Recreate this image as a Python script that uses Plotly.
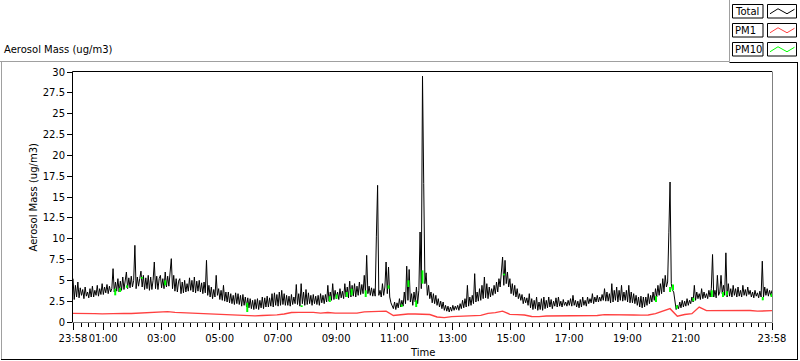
import plotly.graph_objects as go

# ---------------- data (minutes since 23:58, Total sampled every 2.5 min) ----------------
total = [
    5.2, 2.7, 4.4, 3.0, 4.8, 2.9, 4.1, 3.2,
    3.9, 2.8, 4.2, 3.1, 3.6, 2.9, 4.0, 3.0,
    4.3, 3.0, 3.8, 3.2, 4.4, 3.1, 4.0, 3.3,
    4.6, 3.3, 4.2, 3.5, 4.5, 3.4, 4.3, 3.6,
    4.0, 6.4, 3.6, 4.8, 3.7, 5.2, 3.6, 4.9,
    3.8, 5.4, 3.9, 5.0, 6.0, 4.0, 5.3, 4.1,
    5.5, 4.2, 5.0, 9.2, 4.0, 5.4, 4.3, 5.2,
    6.1, 4.2, 5.6, 3.9, 5.3, 4.0, 5.6, 3.8,
    5.4, 3.9, 5.0, 7.2, 4.0, 5.5, 3.9, 5.2,
    5.6, 4.1, 5.2, 4.0, 6.0, 4.2, 5.5, 4.3,
    5.8, 7.6, 4.0, 5.6, 3.7, 5.2, 3.6, 4.9,
    5.2, 3.4, 4.8, 3.5, 5.0, 3.6, 4.6, 3.7,
    5.3, 3.8, 5.0, 3.6, 5.4, 3.5, 4.9, 3.7,
    5.0, 3.6, 4.7, 3.4, 4.8, 3.5, 7.4, 3.2,
    4.4, 3.0, 4.2, 2.8, 3.9, 3.0, 5.6, 3.2,
    4.0, 2.7, 3.8, 2.6, 4.4, 2.5, 3.6, 2.4,
    3.6, 2.3, 3.4, 2.2, 3.2, 2.1, 3.5, 2.2,
    3.4, 2.1, 3.2, 1.9, 3.3, 2.0, 3.0, 1.8,
    2.9, 1.7, 2.8, 1.6, 2.6, 1.5, 2.7, 1.6,
    2.8, 1.5, 2.6, 1.7, 3.0, 1.6, 2.9, 1.8,
    3.1, 1.8, 2.9, 1.9, 3.4, 1.8, 3.5, 2.0,
    3.3, 1.9, 3.6, 2.0, 3.8, 2.1, 3.4, 2.0,
    3.2, 2.0, 3.1, 1.9, 3.3, 2.1, 3.0, 2.2,
    4.5, 2.1, 3.4, 1.9, 4.6, 2.2, 3.6, 2.0,
    3.9, 2.1, 3.5, 2.2, 3.2, 2.0, 3.3, 2.2,
    3.1, 2.1, 3.2, 2.0, 3.4, 2.3, 3.2, 2.2,
    3.3, 2.4, 4.4, 2.5, 3.6, 2.6, 4.6, 2.7,
    3.8, 2.8, 3.6, 2.7, 4.0, 2.9, 3.7, 2.8,
    4.6, 3.0, 4.2, 2.9, 4.9, 3.0, 4.4, 3.1,
    4.6, 3.0, 4.3, 3.2, 4.8, 3.3, 4.5, 3.4,
    5.6, 3.5, 8.0, 3.4, 4.3, 3.2, 4.1, 3.1,
    4.0, 3.1, 10.3, 16.4, 3.2, 3.8, 3.0, 4.6,
    3.2, 4.2, 7.2, 3.4, 6.6, 3.0, 2.3, 2.0,
    1.6, 2.4, 1.5, 2.3, 1.7, 2.8, 1.8, 2.6,
    1.9, 3.6, 2.2, 6.7, 2.6, 6.3, 2.4, 3.4,
    2.0, 3.6, 2.4, 4.2, 2.2, 3.8, 10.8, 4.0,
    29.5, 16.6, 4.6, 5.9, 3.2, 4.4, 2.8, 3.6,
    2.3, 3.4, 2.2, 3.2, 2.0, 2.8, 1.8, 2.5,
    1.6, 2.4, 1.4, 2.0, 1.3, 1.9, 1.2, 1.8,
    1.3, 2.0, 1.4, 1.9, 1.5, 2.0, 1.4, 2.2,
    1.6, 2.6, 1.7, 2.8, 1.8, 4.4, 1.9, 3.0,
    2.0, 3.2, 2.2, 5.8, 2.4, 3.6, 2.5, 4.0,
    2.6, 4.4, 2.8, 5.4, 2.9, 4.6, 2.8, 4.2,
    3.0, 4.0, 3.2, 4.4, 3.4, 4.8, 3.6, 5.2,
    4.2, 6.0, 7.8, 4.4, 7.4, 4.6, 6.0, 4.2,
    5.2, 3.4, 4.6, 3.2, 4.4, 3.0, 4.0, 2.8,
    3.4, 2.6, 3.3, 2.2, 3.0, 2.3, 2.9, 2.0,
    3.4, 1.7, 2.8, 1.5, 2.6, 1.6, 3.0, 1.4,
    2.4, 1.5, 2.8, 1.4, 3.0, 1.6, 2.6, 1.7,
    3.0, 1.8, 2.7, 1.6, 2.5, 1.9, 2.9, 1.8,
    3.0, 1.9, 2.5, 1.8, 2.7, 2.0, 2.4, 1.9,
    2.6, 2.0, 2.8, 1.9, 3.2, 2.0, 2.6, 1.8,
    2.5, 1.7, 2.7, 1.8, 3.0, 2.0, 2.6, 1.9,
    3.0, 2.2, 2.8, 2.3, 3.4, 2.2, 3.0, 2.4,
    3.2, 2.4, 3.0, 2.5, 3.3, 2.6, 4.0, 2.5,
    3.6, 2.5, 3.4, 2.3, 4.6, 2.4, 3.8, 2.6,
    4.2, 2.4, 3.8, 2.6, 4.4, 2.5, 3.6, 2.6,
    3.8, 2.4, 4.4, 2.3, 3.6, 2.3, 3.4, 2.2,
    3.2, 2.0, 3.0, 1.8, 3.1, 1.7, 3.0, 1.8,
    3.0, 2.0, 3.4, 2.2, 3.2, 2.4, 3.6, 2.6,
    4.0, 3.0, 4.4, 3.2, 4.6, 3.4, 5.2, 3.6,
    5.6, 4.2, 4.8, 10.7, 16.8, 4.6, 3.8, 3.6,
    2.2, 1.5, 2.0, 1.6, 2.4, 1.7, 2.6, 1.8,
    2.5, 1.9, 2.8, 2.0, 2.6, 2.2, 3.0, 2.4,
    4.4, 2.6, 3.6, 2.8, 3.4, 2.7, 4.0, 2.8,
    3.6, 2.9, 3.4, 2.8, 3.8, 3.0, 4.0, 8.1,
    3.0, 3.8, 2.9, 5.6, 3.2, 3.6, 5.6, 3.4,
    4.4, 3.2, 8.3, 3.0, 4.6, 3.1, 4.0, 3.0,
    4.4, 3.2, 4.0, 3.0, 4.2, 3.1, 3.8, 3.0,
    4.4, 3.2, 3.9, 3.1, 4.2, 3.3, 3.8, 3.0,
    3.6, 2.9, 3.8, 3.1, 3.5, 2.9, 3.7, 3.0,
    7.3, 3.0, 4.2, 3.2, 4.0, 3.1, 3.8, 3.2,
    3.8]
total_minutes = [2.5 * k for k in range(len(total))]

pm1 = [1.04, 1.00, 0.96, 1.00, 0.98, 1.02, 1.00, 1.04, 1.02, 1.08,
       1.12, 1.16, 1.20, 1.24, 1.16, 1.12, 1.08, 1.02, 1.00, 1.00,
       0.92, 0.88, 0.84, 0.78, 0.76, 0.74, 0.78, 0.80, 0.86, 0.96,
       1.14, 1.16, 1.16, 1.16, 1.06, 1.14, 1.06, 1.06, 1.04, 1.06,
       1.22, 1.26, 1.28, 1.30, 0.78, 0.88, 0.96, 0.96, 0.92, 0.90,
       0.60, 0.52, 0.64, 0.66, 0.72, 0.76, 0.80, 1.04, 1.12, 1.30,
       0.92, 0.88, 0.84, 0.66, 0.64, 0.72, 0.72, 0.74, 0.76, 0.76,
       0.74, 0.76, 0.78, 0.88, 0.88, 0.92, 0.90, 0.84, 0.82, 0.84,
       1.00, 1.30, 1.60, 0.70, 0.90, 1.00, 1.80, 1.36, 1.36, 1.40,
       1.34, 1.36, 1.36, 1.38, 1.30, 1.32, 1.36]
pm1_minutes = [15 * j for j in range(len(pm1))]

# PM10 is hidden under Total except for these short visible excursions
pm10_minutes = [87, 97, 111, 142, 190, 359, 471, 529, 543, 564, 574, 603,
                650, 677, 691, 707, 720, 888, 1201, 1230, 1236, 1244,
                1278, 1316, 1339, 1347, 1421, 1439]
pm10_high = [4.0, 4.1, 4.4, 5.4, 5.0, 2.3, 2.0, 3.1, 3.3, 3.6, 4.0, 3.8,
             4.4, 2.1, 5.0, 2.6, 6.2, 5.8, 3.1, 4.2, 4.5, 2.0,
             2.9, 3.8, 3.6, 3.7, 3.0, 3.4]
pm10_low = [3.2, 3.6, 4.1, 5.2, 4.4, 1.2, 1.8, 2.4, 2.8, 3.0, 3.2, 3.0,
            4.0, 1.8, 4.2, 1.8, 4.6, 5.6, 2.4, 3.6, 3.8, 1.6,
            2.5, 3.0, 3.0, 3.2, 2.6, 3.0]

major_ticks = [0, 62, 182, 302, 422, 542, 662, 782, 902, 1022, 1142, 1262, 1382, 1440]
major_labels = ["23:58", "01:00", "03:00", "05:00", "07:00", "09:00", "11:00",
                "13:00", "15:00", "17:00", "19:00", "21:00", "", "23:58"]
minor_ticks = [2 + 15 * k for k in range(96)]
y_ticks = [2.5 * k for k in range(13)]
y_labels = ["0", "2.5", "5", "7.5", "10", "12.5", "15", "17.5", "20",
            "22.5", "25", "27.5", "30"]

series_names = ["Total", "PM1", "PM10"]
series_colors = ["#000000", "#ff4040", "#00ff00"]

# ---------------- layout geometry ----------------
W, H = 800, 361
L, R, T, B = 73, 772, 72, 322
FONT = "DejaVu Sans"


def px(x):
    return (x - L) / (R - L)


def py(y):
    return (B - y) / (B - T)


fig = go.Figure()

fig.add_trace(go.Scatter(x=pm1_minutes, y=pm1, mode="lines",
                         line=dict(color=series_colors[1], width=1.4),
                         name="PM1", hoverinfo="skip"))
fig.add_trace(go.Scatter(x=total_minutes, y=total, mode="lines",
                         line=dict(color=series_colors[0], width=1),
                         name="Total", hoverinfo="skip"))

seg_x, seg_y = [], []
for t, hi, lo in zip(pm10_minutes, pm10_high, pm10_low):
    seg_x += [t, t, None]
    seg_y += [hi, lo, None]
fig.add_trace(go.Scatter(x=seg_x, y=seg_y, mode="lines",
                         line=dict(color=series_colors[2], width=2),
                         name="PM10", hoverinfo="skip"))

shapes = []


def line(x0, y0, x1, y1, color, width=1):
    shapes.append(dict(type="line", xref="paper", yref="paper",
                       x0=px(x0), y0=py(y0), x1=px(x1), y1=py(y1),
                       line=dict(color=color, width=width), layer="above"))


# outer frame
line(0, 61.5, 729.5, 61.5, "#a0a0a0")
line(1.5, 61.5, 1.5, 360, "#a0a0a0")
line(729.5, 0, 729.5, 61.5, "#a0a0a0")
line(729.5, 62.5, 798, 62.5, "#000000")
line(797.5, 62.5, 797.5, 360, "#000000")
line(1, 359.5, 798, 359.5, "#000000")
# plot border
line(L - 0.5, T - 0.5, R, T - 0.5, "#000000")
line(L - 0.5, T - 0.5, L - 0.5, B + 0.5, "#000000")
line(L - 0.5, B + 0.5, R + 0.5, B + 0.5, "#808080")
line(R + 0.5, T - 0.5, R + 0.5, B + 0.5, "#808080")

annotations = []
# legend
box_tops = [4.5, 23.5, 42.5]
for name, color, top in zip(series_names, series_colors, box_tops):
    bot = top + 13.5
    shapes.append(dict(type="rect", xref="paper", yref="paper",
                       x0=px(732.5), x1=px(763), y0=py(bot), y1=py(top),
                       line=dict(color="#000000", width=1), fillcolor="white"))
    shapes.append(dict(type="rect", xref="paper", yref="paper",
                       x0=px(767.5), x1=px(796.5), y0=py(bot), y1=py(top),
                       line=dict(color="#000000", width=1), fillcolor="white"))
    ym = (top + bot) / 2
    pts = [(770, ym + 2.5), (778, ym - 2.5), (787, ym + 2.5), (794.5, ym - 2)]
    path = "M " + " L ".join(f"{px(a)},{py(b)}" for a, b in pts)
    shapes.append(dict(type="path", xref="paper", yref="paper", path=path,
                       line=dict(color=color, width=1)))
    annotations.append(dict(x=px(733.5), y=py(ym), xref="paper", yref="paper",
                            text=name, showarrow=False, xanchor="left",
                            yanchor="middle", borderpad=0,
                            font=dict(family=FONT, size=10, color="black")))

annotations.append(dict(x=px(3), y=py(50), xref="paper", yref="paper",
                        text="Aerosol Mass (ug/m3)", showarrow=False,
                        xanchor="left", yanchor="middle", borderpad=0,
                        font=dict(family=FONT, size=10, color="black")))
annotations.append(dict(x=px(32.5), y=0.5, xref="paper", yref="paper",
                        text="Aerosol Mass (ug/m3)", showarrow=False,
                        textangle=-90, xanchor="center", yanchor="middle",
                        font=dict(family=FONT, size=10, color="black")))
annotations.append(dict(x=0.5, y=py(352), xref="paper", yref="paper",
                        text="Time", showarrow=False,
                        xanchor="center", yanchor="middle",
                        font=dict(family=FONT, size=10, color="black")))

fig.update_layout(
    width=W, height=H, autosize=False,
    margin=dict(l=L, r=W - R, t=T, b=H - B, pad=0, autoexpand=False),
    paper_bgcolor="white", plot_bgcolor="white",
    showlegend=False,
    shapes=shapes, annotations=annotations,
    font=dict(family=FONT, size=10, color="black"),
    xaxis=dict(range=[0, 1440], showgrid=False, zeroline=False, showline=False,
               automargin=False, tickangle=0,
               tickmode="array", tickvals=major_ticks, ticktext=major_labels,
               ticks="outside", ticklen=7, tickwidth=1, tickcolor="black",
               tickfont=dict(family=FONT, size=10, color="black"),
               minor=dict(tickmode="array", tickvals=minor_ticks,
                          ticks="outside", ticklen=4, tickwidth=1,
                          tickcolor="black", showgrid=False)),
    yaxis=dict(range=[0, 30], showgrid=False, zeroline=False, showline=False,
               automargin=False,
               tickmode="array", tickvals=y_ticks, ticktext=y_labels,
               ticks="outside", ticklen=5, tickwidth=1, tickcolor="black",
               tickfont=dict(family=FONT, size=10, color="black")),
)

fig.write_html("out.html",
               config={"displayModeBar": False},
               post_script="document.body.style.margin='0';"
                           "document.body.style.overflow='hidden';")
